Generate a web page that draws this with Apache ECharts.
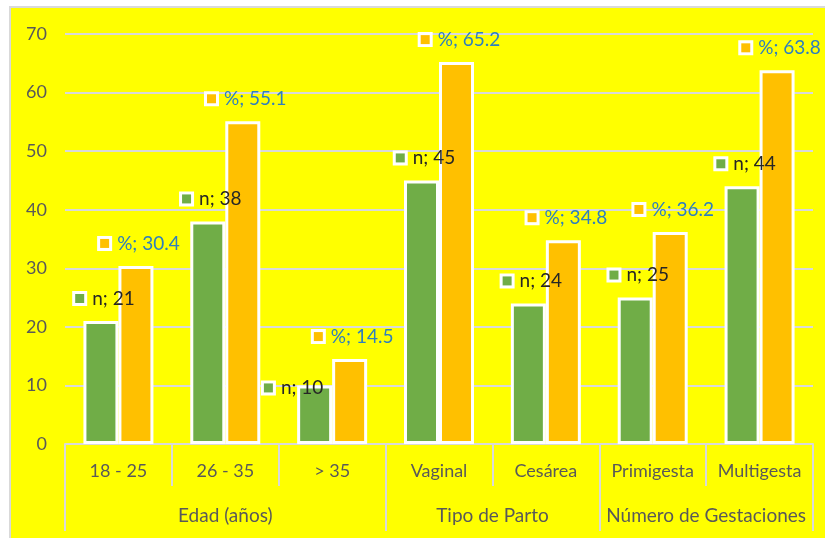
<!DOCTYPE html>
<html>
<head>
<meta charset="utf-8">
<script src="https://cdn.jsdelivr.net/npm/echarts@6/dist/echarts.min.js"></script>
<style>
    html, body { margin: 0; padding: 0; background: #fff; }
    #chart {
        position: absolute;
        left: 9px;
        top: 6px;
        width: 816px;
        height: 532px;
        box-sizing: border-box;
        border-left: 2px solid #d9d9d9;
        border-top: 2px solid #d9d9d9;
        background: #ffff00;
    }
</style>
</head>
<body>
<div id="chart"></div>
<script>
    var categories = ['18 - 25', '26 - 35', '> 35', 'Vaginal', 'Cesárea', 'Primigesta', 'Multigesta'];
    var nValues = [21, 38, 10, 45, 24, 25, 44];
    var pctValues = [30.4, 55.1, 14.5, 65.2, 34.8, 36.2, 63.8];
    var groupNames = ['Edad (años)', 'Tipo de Parto', 'Número de Gestaciones'];
    var groupSizes = [3, 2, 2];
    var yTicks = [0, 10, 20, 30, 40, 50, 60, 70];

    // group boundaries and centers on a 0..n scale
    var bounds = [0];
    var centers = [];
    groupSizes.forEach(function (s) {
        var start = bounds[bounds.length - 1];
        centers.push(start + s / 2);
        bounds.push(start + s);
    });

    var green = '#70AD47';
    var orange = '#FFC000';
    var gray = '#d9d9d9';
    var font = 'Lato';

    function richFor(color, textColor) {
        return {
            m: { width: 9, height: 9, backgroundColor: color, borderColor: '#fff', borderWidth: 3 },
            t: { fontFamily: font, fontSize: 19, color: textColor, padding: [0, 0, 0, 8] }
        };
    }

    var nData = nValues.map(function (v) {
        var item = { value: v };
        if (v === 10) item.label = { offset: [-21, 25] };
        return item;
    });

    var chart = echarts.init(document.getElementById('chart'));
    chart.setOption({
        backgroundColor: 'transparent',
        animation: false,
        grid: { left: 54, right: 12, top: 26, bottom: 94 },
        xAxis: [{
            type: 'category',
            data: categories,
            axisLine: { lineStyle: { color: gray, width: 2 } },
            axisTick: { show: true, interval: 0, length: 42, lineStyle: { color: gray, width: 2 } },
            axisLabel: { interval: 0, margin: 18, color: '#595959', fontFamily: font, fontSize: 18 }
        }, {
            type: 'value',
            position: 'bottom',
            min: 0,
            max: categories.length,
            axisLine: { show: false },
            splitLine: { show: false },
            axisTick: { show: true, customValues: bounds, length: 87, lineStyle: { color: gray, width: 2 } },
            axisLabel: {
                customValues: centers,
                margin: 62,
                color: '#595959',
                fontFamily: font,
                fontSize: 19,
                formatter: function (val) {
                    var i = centers.indexOf(val);
                    return i >= 0 ? groupNames[i] : '';
                }
            }
        }],
        yAxis: {
            type: 'value',
            min: yTicks[0],
            max: yTicks[yTicks.length - 1],
            interval: 10,
            axisLine: { show: false },
            axisTick: { show: false },
            splitLine: { lineStyle: { color: gray, width: 2 } },
            axisLabel: { margin: 18, color: '#595959', fontFamily: font, fontSize: 18 }
        },
        series: [{
            name: 'n',
            type: 'bar',
            data: nData,
            barWidth: 35,
            barGap: '0%',
            itemStyle: { color: green, borderColor: '#fff', borderWidth: 3 },
            label: {
                show: true,
                position: 'top',
                distance: 13,
                offset: [4, 0],
                formatter: function (p) { return '{m|}{t|n; ' + p.value + '}'; },
                rich: richFor(green, '#262626')
            }
        }, {
            name: '%',
            type: 'bar',
            data: pctValues,
            barWidth: 35,
            itemStyle: { color: orange, borderColor: '#fff', borderWidth: 3 },
            label: {
                show: true,
                position: 'top',
                distance: 13,
                offset: [4, 0],
                formatter: function (p) { return '{m|}{t|%; ' + p.value + '}'; },
                rich: richFor(orange, '#2E7FBE')
            }
        }]
    });
</script>
</body>
</html>
